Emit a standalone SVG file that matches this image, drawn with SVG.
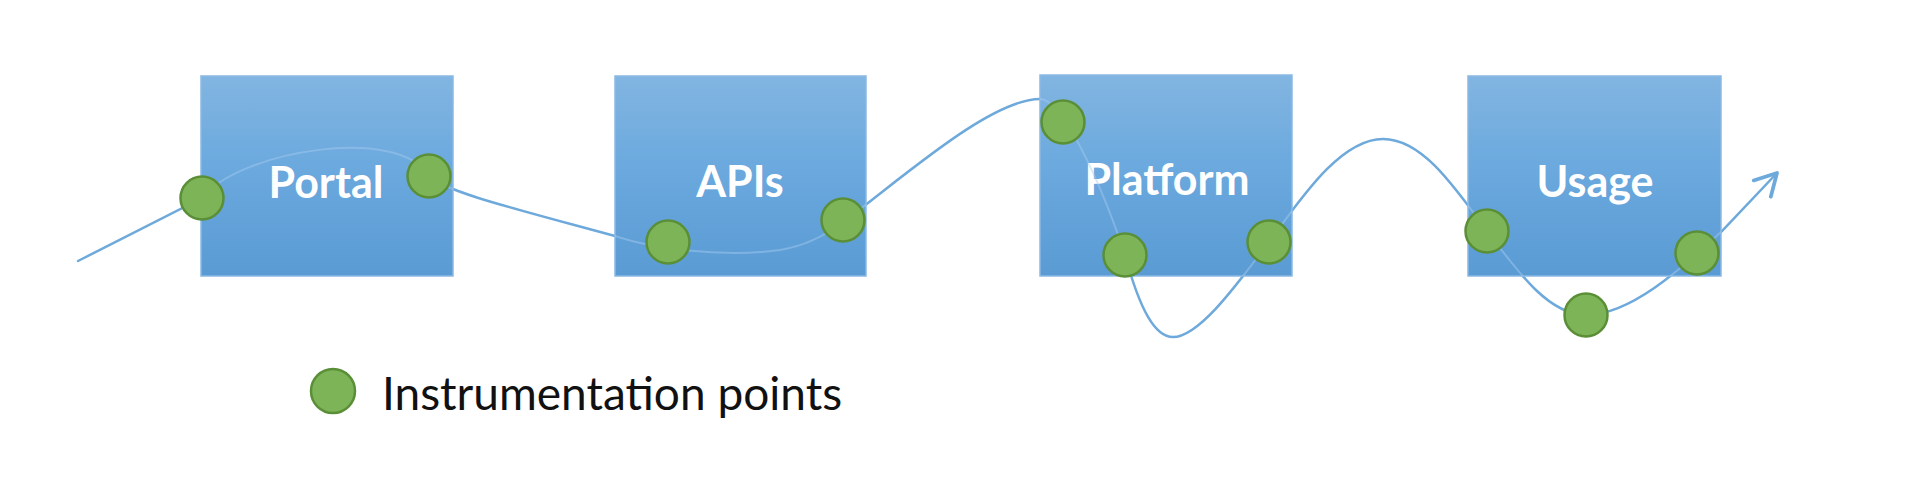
<svg xmlns="http://www.w3.org/2000/svg" width="1920" height="480" viewBox="0 0 1920 480">
<style>
.box{fill:url(#boxGrad);stroke:#8ab9e3;stroke-width:1.5}
.lbl{font-family:Lato,"Open Sans","Liberation Sans",sans-serif;font-weight:bold;font-size:43px;fill:#ffffff;text-anchor:middle}
.pt{fill:#7db458;stroke:#5b8f37;stroke-width:2.5}
.flow{fill:none;stroke:#6ea9dc;stroke-width:2.5;stroke-linecap:round}
.flowIn{fill:none;stroke:#a9cdef;stroke-width:2;opacity:0.45}
.legend{font-family:Lato,"Open Sans","Liberation Sans",sans-serif;font-size:46px;fill:#111111}
</style>
<defs>
<linearGradient id="boxGrad" x1="0" y1="0" x2="0" y2="1">
<stop offset="0" stop-color="#82b5e1"/>
<stop offset="0.45" stop-color="#6ba9de"/>
<stop offset="1" stop-color="#5a9bd4"/>
</linearGradient>
<marker id="arrow" markerUnits="userSpaceOnUse" markerWidth="30" markerHeight="30" viewBox="-24 -14 28 28" refX="0" refY="0" orient="auto">
<path d="M -20 -11 L 0 0 L -20 11" fill="none" stroke="#6ea9dc" stroke-width="3.5" stroke-linecap="round" stroke-linejoin="round"/>
</marker>
<clipPath id="boxClip">
<rect x="201" y="76" width="252" height="200"/>
<rect x="615" y="76" width="251" height="200"/>
<rect x="1040" y="75" width="252" height="201"/>
<rect x="1468" y="76" width="253" height="200"/>
</clipPath>
<path id="flowPath" d="M 78 261 L 202 198 C 240 150 400 125 429 176 C 445 192 520 210 615 236 C 650 248 720 258 780 250 C 810 245 830 232 843 222 C 900 180 990 99 1040 99 C 1062 99 1100 180 1125 255 C 1140 310 1155 337 1173 337 C 1200 337 1240 280 1269 242 C 1300 200 1340 139 1383 139 C 1420 139 1450 180 1487 231 C 1520 275 1550 315 1586 315 C 1630 315 1680 270 1721 232 L 1777 173"/>
</defs>
<rect width="1920" height="480" fill="#ffffff"/>
<g id="connectors-under">
<use href="#flowPath" class="flow" marker-end="url(#arrow)"/>
</g>
<g id="node-portal"><rect class="box" x="201" y="76" width="252" height="200"/><text class="lbl" x="326" y="198">Portal</text></g>
<g id="node-apis"><rect class="box" x="615" y="76" width="251" height="200"/><text class="lbl" x="740" y="197">APIs</text></g>
<g id="node-platform"><rect class="box" x="1040" y="75" width="252" height="201"/><text class="lbl" x="1167" y="195">Platform</text></g>
<g id="node-usage"><rect class="box" x="1468" y="76" width="253" height="200"/><text class="lbl" x="1595" y="197">Usage</text></g>
<g id="connectors">
<use href="#flowPath" class="flowIn" clip-path="url(#boxClip)"/>
</g>
<g id="points">
<circle class="pt" cx="202" cy="198" r="21.5"/>
<circle class="pt" cx="429" cy="176" r="21.5"/>
<circle class="pt" cx="668" cy="242" r="21.5"/>
<circle class="pt" cx="843" cy="220" r="21.5"/>
<circle class="pt" cx="1063" cy="122" r="21.5"/>
<circle class="pt" cx="1125" cy="255" r="21.5"/>
<circle class="pt" cx="1269" cy="242" r="21.5"/>
<circle class="pt" cx="1487" cy="231" r="21.5"/>
<circle class="pt" cx="1586" cy="315" r="21.5"/>
<circle class="pt" cx="1697" cy="253" r="21.5"/>
</g>
<g id="legend">
<circle class="pt" cx="333" cy="391" r="22"/>
<text class="legend" x="382" y="410">Instrumentation points</text>
</g>
</svg>
